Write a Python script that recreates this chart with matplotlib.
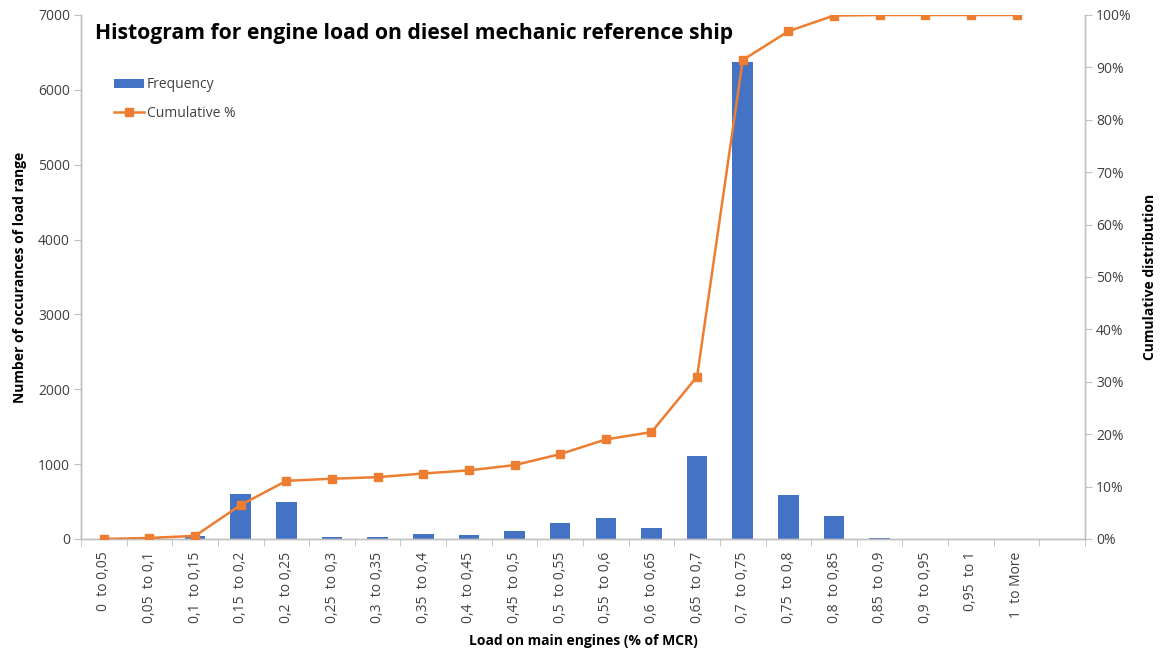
import matplotlib
matplotlib.use("Agg")
import matplotlib.pyplot as plt
import numpy as np
from matplotlib.ticker import PercentFormatter, FixedLocator

plt.rcParams['font.family'] = ['Open Sans', 'DejaVu Sans']

categories = ["0  to 0,05", "0,05  to 0,1", "0,1  to 0,15", "0,15  to 0,2", "0,2  to 0,25",
              "0,25  to 0,3", "0,3  to 0,35", "0,35  to 0,4", "0,4  to 0,45", "0,45  to 0,5",
              "0,5  to 0,55", "0,55  to 0,6", "0,6  to 0,65", "0,65  to 0,7", "0,7  to 0,75",
              "0,75  to 0,8", "0,8  to 0,85", "0,85  to 0,9", "0,9  to 0,95", "0,95  to 1",
              "1  to More", ""]
frequency = [5, 15, 40, 600, 490, 31, 31, 62, 50, 102, 218, 280, 143, 1111, 6376,
             582, 305, 18, 0, 0, 0, np.nan]
cumulative = [0.0, 0.2, 0.6, 6.5, 11.1, 11.5, 11.8, 12.5, 13.1, 14.1, 16.2, 19.0, 20.4,
              31.0, 91.4, 96.9, 99.9, 100.0, 100.0, 100.0, 100.0, np.nan]

blue = "#4472C4"
orange = "#ED7D31"
grey = "#BFBFBF"
txt = "#404040"

fig = plt.figure(figsize=(11.62, 6.5), dpi=100)
ax = fig.add_axes([81/1162, 1-539/650, (1085-81)/1162, (539-15)/650])
x = np.arange(len(categories))
ax.bar(x, frequency, width=0.45, color=blue, label="Frequency", zorder=2)
ax.set_xlim(-0.5, len(categories)-0.5)
ax.set_ylim(0, 7000)
ax.set_yticks(np.arange(0, 7001, 1000))

ax2 = ax.twinx()
ax2.plot(x, cumulative, color=orange, lw=1.8, marker='s', ms=6, label="Cumulative %", zorder=3)
ax2.set_ylim(0, 100)
ax2.set_yticks(np.arange(0, 101, 10))
ax2.yaxis.set_major_formatter(PercentFormatter(decimals=0))

ax.set_xticks(x)
ax.set_xticklabels(categories, rotation=90, fontsize=10, color=txt)
ax.xaxis.set_minor_locator(FixedLocator(np.arange(-0.5, len(categories), 1)))
ax.tick_params(axis='x', which='major', length=0, pad=9)
ax.tick_params(axis='x', which='minor', length=5, color=grey, direction='out')
ax.tick_params(axis='y', length=5, color=grey, labelsize=10, labelcolor=txt, pad=3)
ax2.tick_params(axis='y', length=5, color=grey, labelsize=10, labelcolor=txt, pad=3)

for a in (ax, ax2):
    a.spines['top'].set_visible(False)
    for s in ('left', 'right', 'bottom'):
        a.spines[s].set_color(grey)
        a.spines[s].set_linewidth(1)

ax.set_xlabel("Load on main engines (% of MCR)", fontsize=10, fontweight='bold', labelpad=8)
ax.set_ylabel("Number of occurances of load range", fontsize=10, fontweight='bold', labelpad=8)
ax2.set_ylabel("Cumulative distribution", fontsize=10, fontweight='bold', labelpad=8)

fig.text(95/1162, 1-33/650, "Histogram for engine load on diesel mechanic reference ship",
         fontsize=15.2, fontweight='bold', va='center', ha='left')

h1, l1 = ax.get_legend_handles_labels()
h2, l2 = ax2.get_legend_handles_labels()
leg = ax2.legend(h1 + h2, l1 + l2, loc='upper left', bbox_to_anchor=(0.02, 0.905),
                 frameon=False, fontsize=10, handlelength=2.2, labelspacing=1.0,
                 handletextpad=0.2)
for t in leg.get_texts():
    t.set_color(txt)

fig.savefig("out.png", dpi=100)
